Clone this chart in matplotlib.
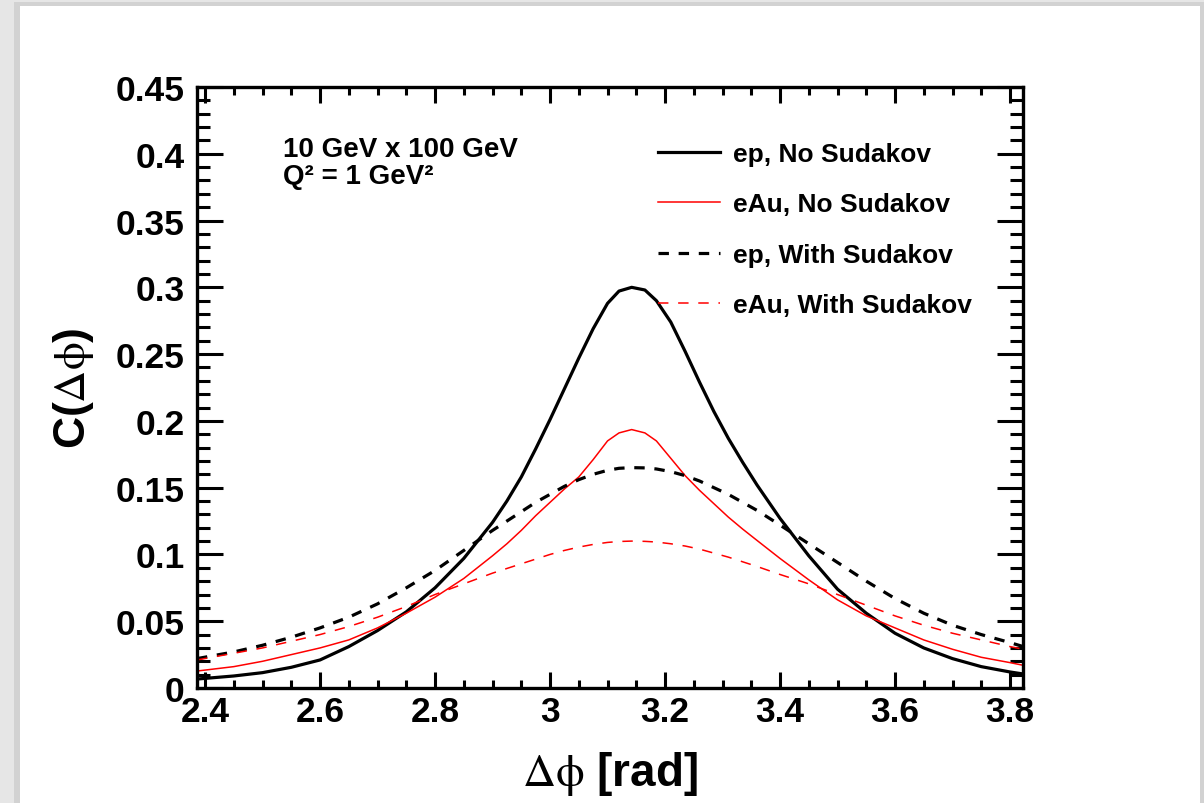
import matplotlib
matplotlib.use("Agg")
import matplotlib.pyplot as plt
from matplotlib.ticker import MultipleLocator, FuncFormatter
from matplotlib.patches import Rectangle

# ---------------- data ----------------
dphi = [2.386, 2.45, 2.50, 2.55, 2.60, 2.65, 2.70, 2.75, 2.80, 2.85, 2.90, 2.925,
        2.95, 2.975, 3.00, 3.025, 3.05, 3.075, 3.10, 3.12, 3.142, 3.165, 3.185, 3.21,
        3.235, 3.26, 3.285, 3.31, 3.335, 3.36, 3.40, 3.45, 3.50, 3.55, 3.60, 3.65,
        3.70, 3.75, 3.80, 3.823]

ep_no_sudakov = [0.0067, 0.009, 0.0115, 0.0155, 0.021, 0.031, 0.043, 0.057, 0.075, 0.097,
                 0.124, 0.140, 0.158, 0.179, 0.201, 0.224, 0.247, 0.269, 0.288, 0.2972,
                 0.300, 0.298, 0.290, 0.274, 0.252, 0.229, 0.207, 0.187, 0.169, 0.152,
                 0.127, 0.099, 0.074, 0.056, 0.041, 0.030, 0.022, 0.016, 0.012, 0.0105]

eau_no_sudakov = [0.0127, 0.016, 0.020, 0.025, 0.030, 0.036, 0.045, 0.056, 0.068, 0.082,
                  0.099, 0.108, 0.118, 0.129, 0.139, 0.149, 0.158, 0.171, 0.185, 0.191,
                  0.1935, 0.191, 0.185, 0.172, 0.159, 0.148, 0.138, 0.128, 0.119, 0.1105,
                  0.097, 0.081, 0.066, 0.054, 0.045, 0.036, 0.029, 0.023, 0.019, 0.017]

ep_with_sudakov = [0.022, 0.027, 0.032, 0.038, 0.045, 0.053, 0.063, 0.075, 0.088, 0.103,
                   0.118, 0.125, 0.132, 0.139, 0.145, 0.151, 0.156, 0.160, 0.163, 0.1645,
                   0.165, 0.1648, 0.164, 0.162, 0.159, 0.155, 0.150, 0.145, 0.139, 0.133,
                   0.122, 0.108, 0.094, 0.080, 0.067, 0.056, 0.047, 0.040, 0.034, 0.031]

eau_with_sudakov = [0.021, 0.026, 0.030, 0.035, 0.040, 0.046, 0.053, 0.061, 0.070, 0.078,
                    0.086, 0.0895, 0.093, 0.0965, 0.100, 0.103, 0.1055, 0.1075, 0.109, 0.1097,
                    0.110, 0.1098, 0.1093, 0.108, 0.1063, 0.104, 0.101, 0.098, 0.0945, 0.091,
                    0.085, 0.078, 0.070, 0.062, 0.054, 0.047, 0.041, 0.036, 0.031, 0.029]

labels = ["ep, No Sudakov", "eAu, No Sudakov", "ep, With Sudakov", "eAu, With Sudakov"]
info_lines = ["10 GeV x 100 GeV", "Q\u00b2 = 1 GeV\u00b2"]

# ---------------- style ----------------
plt.rcParams['font.family'] = ['Liberation Sans', 'DejaVu Sans']
plt.rcParams['mathtext.fontset'] = 'stix'
plt.rcParams['lines.scale_dashes'] = False

fig = plt.figure(figsize=(12.04, 8.04), dpi=100)
fig.patch.set_facecolor('#e6e6e6')
# page shadow + white page (behind the axes)
fig.patches.append(Rectangle((14/1204, 0), 1190/1204, (804-3)/804, transform=fig.transFigure,
                             facecolor='#d2d2d2', edgecolor='none', zorder=-20))
fig.patches.append(Rectangle((20/1204, 0), 1180/1204, (804-7)/804, transform=fig.transFigure,
                             facecolor='white', edgecolor='none', zorder=-10))

ax = fig.add_axes([197/1204, 1-689/804, (1023-197)/1204, (689-88)/804])
ax.set_facecolor('white')

lw_black = 2.3
lw_red = 1.1
ax.plot(dphi, ep_no_sudakov, color='black', lw=lw_black, label=labels[0])
ax.plot(dphi, eau_no_sudakov, color='#ff0000', lw=lw_red, label=labels[1])
ax.plot(dphi, ep_with_sudakov, color='black', lw=lw_black, dashes=(7.5, 7), label=labels[2])
ax.plot(dphi, eau_with_sudakov, color='#ff0000', lw=lw_red, dashes=(7.5, 7), label=labels[3])

ax.set_xlim(2.386, 3.8226)
ax.set_ylim(0, 0.45)

ax.xaxis.set_major_locator(MultipleLocator(0.2))
ax.xaxis.set_minor_locator(MultipleLocator(0.05))
ax.yaxis.set_major_locator(MultipleLocator(0.05))
ax.yaxis.set_minor_locator(MultipleLocator(0.01))
fmt = FuncFormatter(lambda v, p: '%g' % round(v, 4))
ax.xaxis.set_major_formatter(fmt)
ax.yaxis.set_major_formatter(fmt)

for s in ax.spines.values():
    s.set_linewidth(2.4)

ax.tick_params(axis='both', which='both', direction='in', top=True, right=True, width=2.2)
ax.tick_params(axis='x', which='major', length=11.5, pad=5)
ax.tick_params(axis='x', which='minor', length=6)
ax.tick_params(axis='y', which='major', length=18.5, pad=9)
ax.tick_params(axis='y', which='minor', length=9.4)
for lab in ax.get_xticklabels() + ax.get_yticklabels():
    lab.set_fontsize(25.5)
    lab.set_fontweight('bold')

ax.set_xlabel(r'$\mathrm{\Delta\phi}$ [rad]', fontsize=33, fontweight='bold')
ax.xaxis.set_label_coords(0.5, -0.102)
ax.set_ylabel(r'C($\mathrm{\Delta\phi}$)', fontsize=32, fontweight='bold')
ax.yaxis.set_label_coords(-0.122, 0.5)

ax.text(0.104, 0.885, info_lines[0], transform=ax.transAxes, fontsize=20,
        fontweight='bold', va='baseline', ha='left')
ax.text(0.104, 0.840, info_lines[1], transform=ax.transAxes, fontsize=20,
        fontweight='bold', va='baseline', ha='left')

leg = ax.legend(loc='upper left', bbox_to_anchor=((658-197)/826, (689-143)/601),
                frameon=False, prop={'family': 'Liberation Sans', 'weight': 'bold', 'size': 19},
                handlelength=2.35, handletextpad=0.5, labelspacing=1.0, borderpad=0,
                borderaxespad=0)

fig.savefig('out.png', dpi=100, facecolor=fig.get_facecolor())
